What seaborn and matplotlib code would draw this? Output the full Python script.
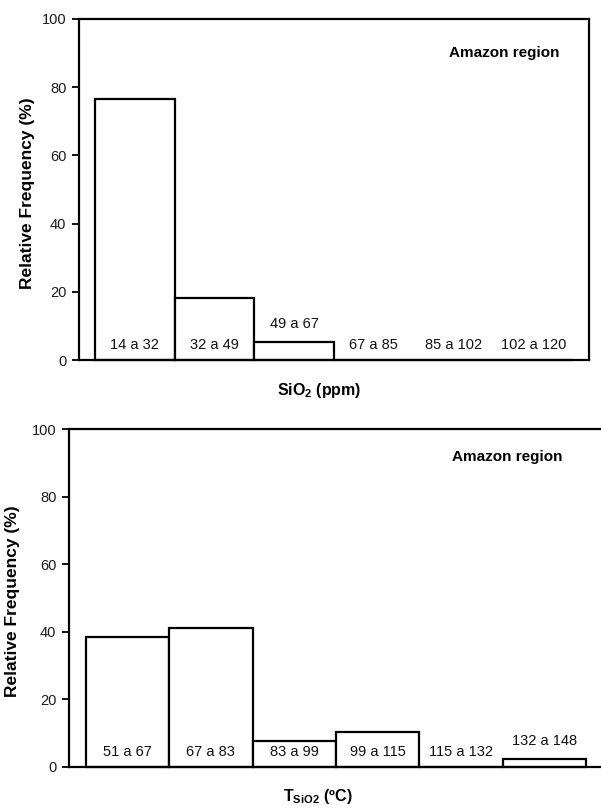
import matplotlib
matplotlib.use("Agg")
import matplotlib.pyplot as plt
from matplotlib import font_manager
import seaborn as sns
import pandas as pd

# ---- data ----
sio2_bins = ["14 a 32", "32 a 49", "49 a 67", "67 a 85", "85 a 102", "102 a 120"]
sio2_freq = [76.5, 18.2, 5.3, 0.0, 0.0, 0.0]
temp_bins = ["51 a 67", "67 a 83", "83 a 99", "99 a 115", "115 a 132", "132 a 148"]
temp_freq = [38.5, 41.0, 7.6, 10.3, 0.0, 2.5]
y_ticks = [0, 20, 40, 60, 80, 100]
region_label = "Amazon region"
y_label = "Relative Frequency (%)"
x_label_top = r"$\mathbf{SiO_2}$ (ppm)"
x_label_bottom = r"$\mathbf{T_{SiO2}}$ (ºC)"

sns.set_theme(style="white")

avail = {f.name for f in font_manager.fontManager.ttflist}
narrow = "Liberation Sans Narrow" if "Liberation Sans Narrow" in avail else "Liberation Sans"
plt.rcParams["font.family"] = [narrow, "DejaVu Sans"]
plt.rcParams["mathtext.fontset"] = "custom"
plt.rcParams["mathtext.rm"] = narrow
plt.rcParams["mathtext.bf"] = narrow + ":bold"
plt.rcParams["mathtext.it"] = narrow + ":italic"
plt.rcParams["text.color"] = "black"
plt.rcParams["axes.labelcolor"] = "black"

fig = plt.figure(figsize=(6.01, 8.10), dpi=100)

W, H = 601, 810


def make_axes(l, r, t, b):
    return fig.add_axes([l / W, 1 - b / H, (r - l) / W, (b - t) / H])


def draw(ax, cats, vals, ylab_x, region_xy, show_right=True):
    df = pd.DataFrame({"bin": cats, "freq": vals})
    sns.barplot(data=df, x="bin", y="freq", ax=ax, color="white",
                edgecolor="black", linewidth=1.6, width=1.0, saturation=1)
    for p in ax.patches:
        p.set_facecolor("white")
        p.set_clip_on(False)
    ax.set_xlim(-0.7, len(cats) - 0.3)
    ax.set_ylim(0, 100)
    ax.set_yticks(y_ticks)
    ax.set_yticklabels([str(t) for t in y_ticks], fontsize=10.5, color="#1a1a1a")
    ax.set_xticks([])
    ax.set_xlabel("")
    ax.set_ylabel(y_label, fontsize=12.5, fontweight="bold", color="black",
                  family=["Liberation Sans", "DejaVu Sans"])
    ax.yaxis.set_label_coords(ylab_x, 0.49)
    ax.tick_params(axis="y", direction="out", length=5, width=1.3, left=True,
                   pad=4, color="black")
    for s in ax.spines.values():
        s.set_color("black")
        s.set_linewidth(1.6)
    ax.spines["right"].set_visible(show_right)
    for i, (c, v) in enumerate(zip(cats, vals)):
        ypos = 4.5 if (v >= 7 or v == 0) else v + 5.3
        ax.text(i, ypos, c, ha="center", va="center", fontsize=10.5, color="#111111")
    ax.text(region_xy[0], region_xy[1], region_label, transform=ax.transAxes,
            ha="center", va="center", fontsize=11, fontweight="bold", color="black")
    return ax


ax1 = make_axes(79, 589, 19, 360)
draw(ax1, sio2_bins, sio2_freq, -0.086, (0.833, 0.900))
fig.text(319 / W, 1 - 391 / H, x_label_top, ha="center", va="center",
         fontsize=11.5, fontweight="bold", color="black")

ax2 = make_axes(69, 603, 429, 767)
draw(ax2, temp_bins, temp_freq, -0.092, (0.820, 0.917))
fig.text(318 / W, 1 - 797 / H, x_label_bottom, ha="center", va="center",
         fontsize=11.5, fontweight="bold", color="black")

fig.savefig("out.png", dpi=100)
